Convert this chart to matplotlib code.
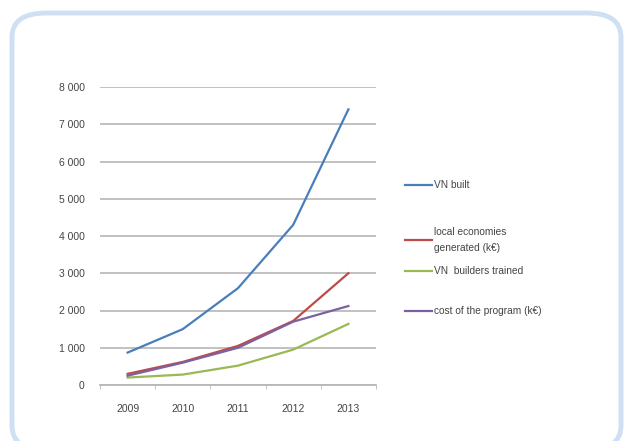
import matplotlib
matplotlib.use("Agg")
import matplotlib.pyplot as plt
from matplotlib.patches import FancyBboxPatch
from matplotlib.lines import Line2D
from matplotlib.ticker import FuncFormatter, FixedLocator

years = ["2009", "2010", "2011", "2012", "2013"]
vn_built = [870, 1500, 2600, 4300, 7400]
local_econ = [300, 620, 1050, 1720, 3000]
builders = [200, 280, 520, 950, 1640]
cost = [250, 600, 1000, 1700, 2120]

series_labels = ["VN built", "local economies\ngenerated (k€)", "VN  builders trained", "cost of the program (k€)"]
colors = ["#4a7ebb", "#be4b48", "#98b954", "#7d60a0"]

plt.rcParams['font.family'] = ['Liberation Sans', 'DejaVu Sans']

fig = plt.figure(figsize=(6.27, 4.41), dpi=100)

# rounded frame (extends slightly past bottom edge)
W, H = 627, 441
frame = FancyBboxPatch((12/W, 1 - 450/H), (621-12)/W, (450-13)/H,
                       boxstyle="round,pad=0,rounding_size=0.055",
                       transform=fig.transFigure, facecolor="white",
                       edgecolor="#cfe0f3", linewidth=3.5, zorder=-5)
fig.patches.append(frame)

ax = fig.add_axes([100/W, 1 - 385/H, 276/W, (385-87)/H])
ax.set_facecolor("none")
ax.set_zorder(2)
x = list(range(len(years)))
ax.plot(x, vn_built, color=colors[0], lw=1.6)
ax.plot(x, builders, color=colors[2], lw=1.6)
ax.plot(x, local_econ, color=colors[1], lw=1.6)
ax.plot(x, cost, color=colors[3], lw=1.6)

ax.set_xlim(-0.5, 4.5)
ax.set_ylim(0, 8000)
ax.set_yticks(range(0, 8001, 1000))
ax.yaxis.set_major_formatter(FuncFormatter(lambda v, p: f"{int(v):,}".replace(",", " ")))
ax.set_xticks(x)
ax.set_xticklabels(years)
ax.xaxis.set_minor_locator(FixedLocator([i - 0.5 for i in range(6)]))
ax.tick_params(axis='x', which='major', length=0, pad=14, labelsize=7.5, labelcolor="#444444")
ax.tick_params(axis='x', which='minor', length=3, color="#b8b8b8")
ax.tick_params(axis='y', length=0, pad=11, labelsize=7.5, labelcolor="#444444")
ax.grid(axis='y', color="#bcbcbc", lw=1.3)
ax.set_axisbelow(True)
for s in ["top", "right", "left"]:
    ax.spines[s].set_visible(False)
ax.spines["bottom"].set_color("#b8b8b8")
ax.spines["bottom"].set_linewidth(1.3)

# legend
leg_y = [185, 240, 271, 311]
for lab, col, yy in zip(series_labels, colors, leg_y):
    yf = 1 - yy / H
    fig.lines.append(Line2D([405/W, 432/W], [yf, yf], transform=fig.transFigure,
                            color=col, lw=1.6))
    fig.text(434/W, yf, lab, fontsize=7.3, color="#444444", va="center", ha="left",
             linespacing=1.8)

fig.savefig("out.png", dpi=100)
